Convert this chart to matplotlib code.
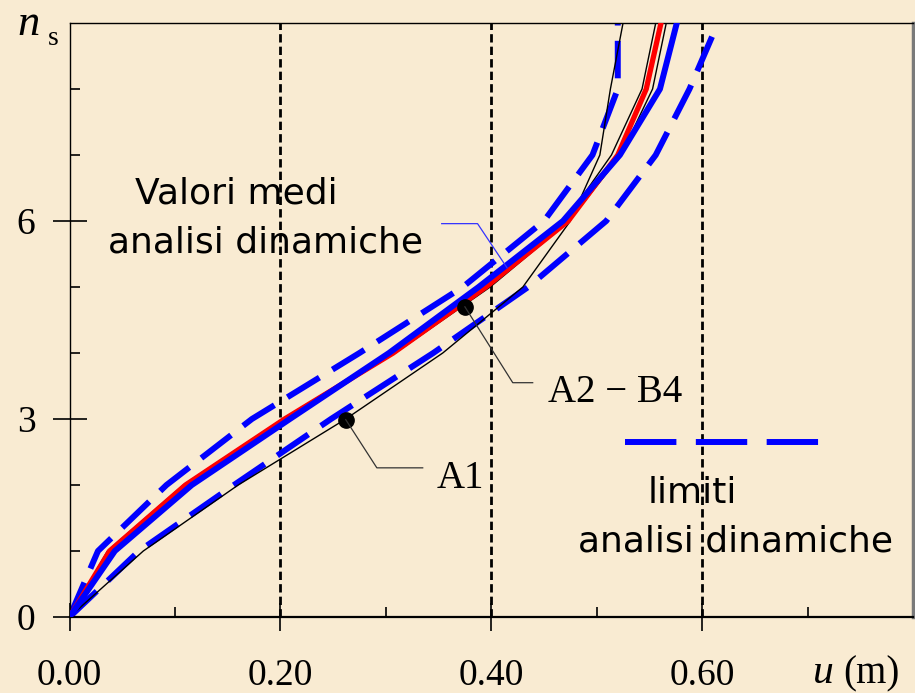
import matplotlib
matplotlib.use('Agg')
import matplotlib.pyplot as plt

plt.rcParams['lines.scale_dashes'] = False

# piano (storey level) and lateral displacements u (m)
levels = [0, 1, 2, 3, 4, 5, 6, 7, 8, 9]
u_red = [0, 0.038, 0.110, 0.204, 0.307, 0.395, 0.473, 0.520, 0.547, 0.561]
u_mean = [0, 0.043, 0.116, 0.209, 0.303, 0.388, 0.468, 0.522, 0.560, 0.576]
u_a2 = [0, 0.036, 0.108, 0.202, 0.304, 0.395, 0.470, 0.514, 0.543, 0.556]
u_b4 = [0, 0.040, 0.113, 0.207, 0.309, 0.399, 0.474, 0.523, 0.553, 0.566]
u_a1 = [0, 0.070, 0.160, 0.262, 0.354, 0.430, 0.475, 0.503, 0.513, 0.525]
u_upper = [0, 0.027, 0.092, 0.173, 0.275, 0.373, 0.450, 0.496, 0.520, 0.520]
u_lower = [0, 0.066, 0.156, 0.248, 0.345, 0.435, 0.509, 0.556, 0.588, 0.615]

x_ticks = [0.0, 0.2, 0.4, 0.6]
x_ticklabels = ['0.00', '0.20', '0.40', '0.60']
y_ticks = [0, 3, 6]

bg = '#F9EBD2'
serif = 'Liberation Serif'

fig = plt.figure(figsize=(9.15, 6.93), dpi=100, facecolor=bg)
ax = fig.add_axes([69.5 / 915, 76 / 693, 843.5 / 915, 594 / 693])
ax.set_facecolor(bg)

# vertical reference lines
for xv in [0.2, 0.4, 0.6]:
    ax.axvline(xv, color='black', lw=2.0, dashes=(6, 3), zorder=1)

# limits of dynamic analyses
ax.plot(u_upper, levels, color='#0000FF', lw=4.3, dashes=(27, 11), zorder=2)
ax.plot(u_lower, levels, color='#0000FF', lw=4.3, dashes=(27, 11), zorder=2)

# single analyses
ax.plot(u_a1, levels, color='black', lw=1.0, zorder=3)
ax.plot(u_a2, levels, color='black', lw=1.0, zorder=3)
ax.plot(u_b4, levels, color='black', lw=1.0, zorder=3)
ax.plot(u_red, levels, color='#FF0000', lw=3.8, zorder=4)
ax.plot(u_mean, levels, color='#0000FF', lw=4.3, zorder=5)

# annotations
ax.plot([0.375], [4.70], 'o', color='black', ms=11, zorder=6)
ax.plot([0.375, 0.4204, 0.4393], [4.70, 3.55, 3.55], color='#333333', lw=0.9, zorder=6)
ax.text(0.4536, 3.26, 'A2 \u2212 B4', fontsize=28, family=serif, va='baseline')

ax.plot([0.262], [2.99], 'o', color='black', ms=11, zorder=6)
ax.plot([0.262, 0.2915, 0.335], [2.99, 2.26, 2.26], color='#333333', lw=0.9, zorder=6)
ax.text(0.348, 1.955, 'A1', fontsize=28, family=serif, va='baseline')

ax.plot([0.353, 0.387, 0.415], [5.96, 5.96, 5.29], color='#3333FF', lw=0.9, zorder=6)
ax.text(0.062, 6.26, 'Valori medi', fontsize=26, va='baseline')
ax.text(0.0365, 5.53, 'analisi dinamiche', fontsize=26, va='baseline')

# legend for the dashed limits
ax.plot([0.527, 0.713], [2.65, 2.65], color='#0000FF', lw=4.3, dashes=(37, 14))
ax.text(0.548, 1.73, 'limiti', fontsize=26, va='baseline')
ax.text(0.482, 0.985, 'analisi dinamiche', fontsize=26, va='baseline')

ax.set_xlim(0, 0.8)
ax.set_ylim(0, 9)
ax.set_xticks(x_ticks)
ax.set_xticklabels(x_ticklabels, family=serif, fontsize=27)
ax.set_xticks([0.1, 0.3, 0.5, 0.7], minor=True)
ax.set_yticks(y_ticks)
ax.set_yticklabels([str(v) for v in y_ticks], family=serif, fontsize=27)
ax.set_yticks([1, 2, 4, 5, 7, 8], minor=True)
ax.tick_params(axis='x', which='major', direction='inout', length=20, width=1.2, pad=20)
ax.tick_params(axis='y', which='major', direction='inout', length=25, width=1.2, pad=12)
ax.tick_params(which='minor', direction='in', length=7, width=1.2)

for s in ['left', 'top']:
    ax.spines[s].set_linewidth(1.0)
ax.spines['bottom'].set_linewidth(1.6)
ax.spines['right'].set_color('#7a7a7a')
ax.spines['right'].set_linewidth(2.5)

# axis names
fig.text(17 / 915, 1 - 35 / 693, 'n', fontsize=32, family=serif, style='italic', va='baseline')
fig.text(48 / 915, 1 - 45 / 693, 's', fontsize=20, family=serif, va='baseline')
fig.text(813 / 915, 1 - 683 / 693, 'u', fontsize=30, family=serif, style='italic', va='baseline')
fig.text(843 / 915, 1 - 683 / 693, '(m)', fontsize=28, family=serif, va='baseline')

fig.savefig('out.png', dpi=100, facecolor=bg)
